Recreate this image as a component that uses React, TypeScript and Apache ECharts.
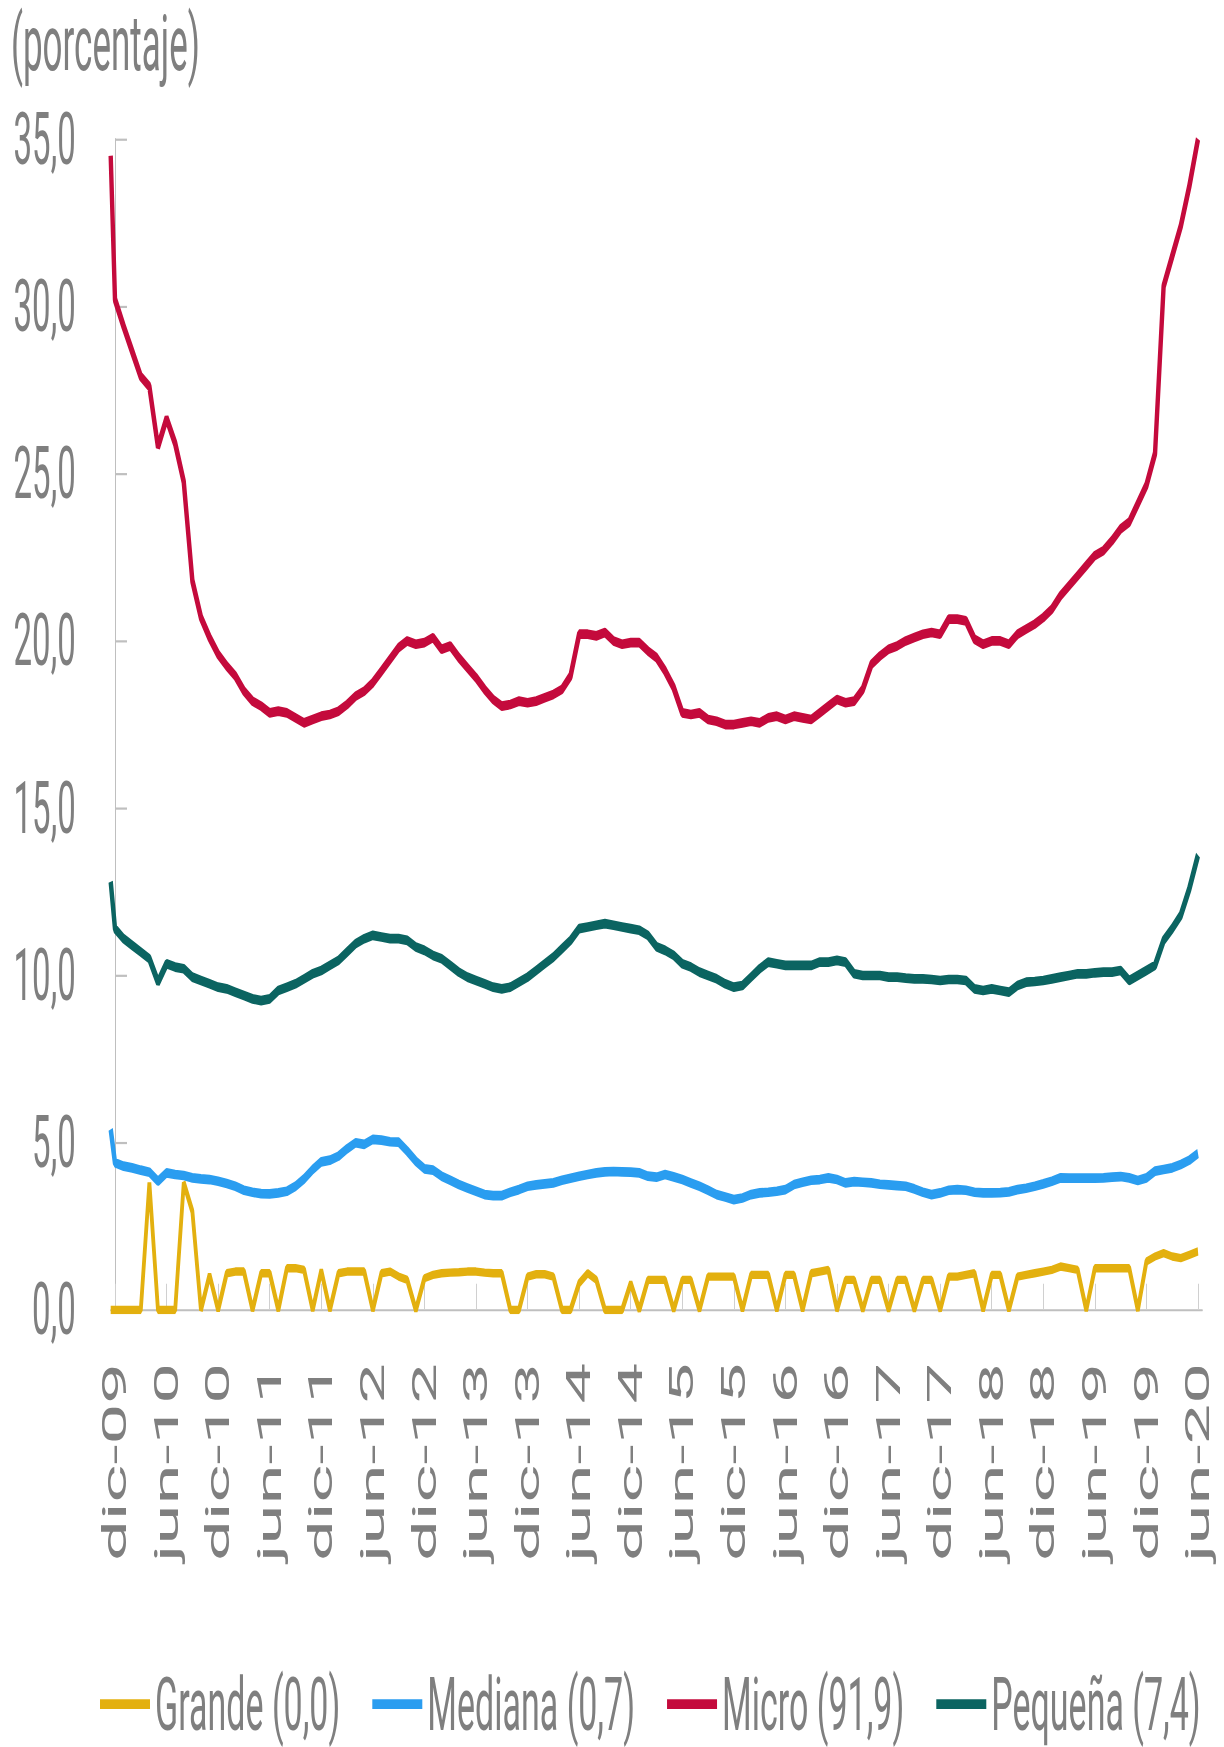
import React, { useEffect, useRef } from "react";
import * as echarts from "echarts";

// Tick labels every 6 months (month index 0 = dic-09)
const tickLabels = [
  "dic-09", "jun-10", "dic-10", "jun-11", "dic-11", "jun-12", "dic-12", "jun-13",
  "dic-13", "jun-14", "dic-14", "jun-15", "dic-15", "jun-16", "dic-16", "jun-17",
  "dic-17", "jun-18", "dic-18", "jun-19", "dic-19", "jun-20",
];
const tickMonths = [0, 6, 12, 18, 24, 30, 36, 42, 48, 54, 60, 66, 72, 78, 84, 90, 96, 102, 108, 114, 120, 126];

// First value sits at the left edge of the axis (month -0.5), then monthly dic-09 .. jun-20
const grande = [
  0, 0, 0, 0, 0, 3.8, 0, 0, 0, 3.8,
  2.95, 0, 1.05, 0, 1.1, 1.15, 1.15, 0, 1.1, 1.1,
  0, 1.25, 1.25, 1.2, 0, 1.18, 0, 1.1, 1.15, 1.15,
  1.15, 0, 1.1, 1.15, 1.0, 0.9, 0, 0.95, 1.05, 1.1,
  1.12, 1.13, 1.15, 1.15, 1.12, 1.1, 1.1, 0, 0, 1.0,
  1.07, 1.07, 1.0, 0, 0, 0.8, 1.1, 0.9, 0, 0,
  0, 0.8, 0, 0.9, 0.9, 0.9, 0, 0.9, 0.9, 0,
  1.0, 1.0, 1.0, 1.0, 0, 1.05, 1.05, 1.05, 0, 1.05,
  1.05, 0, 1.1, 1.15, 1.2, 0, 0.9, 0.9, 0, 0.9,
  0.9, 0, 0.9, 0.9, 0, 0.9, 0.9, 0, 1.0, 1.0,
  1.05, 1.1, 0, 1.05, 1.05, 0, 1.0, 1.05, 1.1, 1.15,
  1.2, 1.3, 1.25, 1.2, 0, 1.25, 1.25, 1.25, 1.25, 1.25,
  0, 1.45, 1.6, 1.7, 1.6, 1.55, 1.65, 1.75,
];
const mediana = [
  5.4, 4.4, 4.3, 4.25, 4.18, 4.12, 3.85, 4.1, 4.05, 4.02,
  3.95, 3.92, 3.9, 3.85, 3.78, 3.7, 3.58, 3.52, 3.48, 3.47,
  3.5, 3.55, 3.7, 3.92, 4.2, 4.43, 4.48, 4.6, 4.82, 5.0,
  4.95, 5.1, 5.08, 5.03, 5.02, 4.75, 4.45, 4.22, 4.18, 4.0,
  3.88, 3.75, 3.65, 3.55, 3.45, 3.42, 3.42, 3.52, 3.6, 3.7,
  3.74, 3.77, 3.8, 3.88, 3.94, 4.0, 4.05, 4.1, 4.13, 4.14,
  4.13, 4.12, 4.1, 4.0, 3.97, 4.05, 3.98, 3.9, 3.8, 3.7,
  3.58, 3.45, 3.38, 3.3, 3.35, 3.45, 3.5, 3.52, 3.55, 3.6,
  3.75, 3.82, 3.88, 3.9, 3.95, 3.9, 3.8, 3.84, 3.82, 3.8,
  3.76, 3.74, 3.72, 3.7, 3.62, 3.52, 3.45, 3.5, 3.58, 3.6,
  3.58, 3.52, 3.5, 3.5, 3.51, 3.53, 3.6, 3.64, 3.7, 3.77,
  3.85, 3.95, 3.94, 3.94, 3.94, 3.94, 3.95, 3.97, 3.99, 3.95,
  3.87, 3.95, 4.15, 4.2, 4.25, 4.35, 4.48, 4.68,
];
const micro = [
  34.5, 30.2, 29.4, 28.65, 27.9, 27.6, 25.8, 26.65, 25.9, 24.75,
  21.8, 20.7, 20.1, 19.6, 19.25, 18.95, 18.5, 18.2, 18.05, 17.85,
  17.9, 17.85, 17.7, 17.55, 17.65, 17.75, 17.8, 17.9, 18.1, 18.35,
  18.5, 18.75, 19.1, 19.45, 19.8, 20.0, 19.9, 19.95, 20.1, 19.75,
  19.85, 19.5, 19.2, 18.9, 18.55, 18.25, 18.05, 18.1, 18.2, 18.15,
  18.2, 18.3, 18.4, 18.55, 18.95, 20.2, 20.2, 20.15, 20.25, 20.0,
  19.9, 19.95, 19.95, 19.7, 19.5, 19.1, 18.6, 17.85, 17.8, 17.85,
  17.65, 17.6, 17.5, 17.5, 17.55, 17.6, 17.55, 17.7, 17.75, 17.65,
  17.75, 17.7, 17.65, 17.85, 18.05, 18.25, 18.15, 18.2, 18.55, 19.3,
  19.55, 19.75, 19.85, 20.0, 20.1, 20.2, 20.25, 20.2, 20.65, 20.65,
  20.6, 20.05, 19.9, 20.0, 20.0, 19.9, 20.2, 20.35, 20.5, 20.7,
  20.95, 21.35, 21.65, 21.95, 22.25, 22.55, 22.7, 23.0, 23.35, 23.55,
  24.1, 24.65, 25.6, 30.6, 31.5, 32.4, 33.6, 35.0,
];
const pequena = [
  12.8, 11.4, 11.1, 10.9, 10.7, 10.5, 9.8, 10.35, 10.25, 10.2,
  9.95, 9.85, 9.75, 9.65, 9.6, 9.5, 9.4, 9.3, 9.25, 9.3,
  9.55, 9.65, 9.75, 9.9, 10.05, 10.15, 10.3, 10.45, 10.7, 10.95,
  11.1, 11.2, 11.15, 11.1, 11.1, 11.05, 10.85, 10.75, 10.6, 10.5,
  10.3, 10.1, 9.95, 9.85, 9.75, 9.65, 9.6, 9.65, 9.8, 9.95,
  10.15, 10.35, 10.55, 10.8, 11.05, 11.4, 11.45, 11.5, 11.55, 11.5,
  11.45, 11.4, 11.35, 11.2, 10.86, 10.75, 10.6, 10.35, 10.25, 10.1,
  10.0, 9.9, 9.75, 9.65, 9.7, 9.95, 10.2, 10.4, 10.35, 10.3,
  10.3, 10.3, 10.3, 10.4, 10.4, 10.45, 10.4, 10.05, 10.0, 10.0,
  10.0, 9.95, 9.95, 9.92, 9.9, 9.9, 9.88, 9.85, 9.88, 9.88,
  9.85, 9.6, 9.55, 9.6, 9.55, 9.5, 9.7, 9.8, 9.82, 9.85,
  9.9, 9.95, 10.0, 10.05, 10.05, 10.08, 10.1, 10.1, 10.15, 9.85,
  10.0, 10.15, 10.3, 11.05, 11.4, 11.8, 12.6, 13.6,
];

const seriesNames = ["Grande (0,0)", "Mediana (0,7)", "Micro (91,9)", "Pequeña (7,4)"];
const seriesColors = ["#E3B00F", "#2A9DF0", "#C40A3C", "#0B6461"];

const PAGE_W = 1224;
const PAGE_H = 1747;
const CHART_H = 794; // drawn height, stretched vertically to the page height
const STRETCH = PAGE_H / CHART_H;

export default function App() {
  const ref = useRef<HTMLDivElement>(null);

  useEffect(() => {
    if (!ref.current) return;
    const chart = echarts.init(ref.current, null, { renderer: "svg" });
    const xPos = [-0.5, ...micro.slice(1).map((_, i) => i)];
    const toData = (vals: number[]) => vals.map((v, i) => [xPos[i], v]);
    const gray = "#7f7f7f";
    const font = "Roboto";
    const allValues = [grande, mediana, micro, pequena];

    chart.setOption({
      animation: false,
      backgroundColor: "#ffffff",
      title: {
        text: "(porcentaje)",
        left: 11,
        top: 0,
        padding: 0,
        textStyle: { fontFamily: font, fontSize: 35, fontWeight: "normal", color: gray, lineHeight: 40 },
      },
      legend: {
        left: 100,
        top: 754.5,
        padding: 0,
        itemWidth: 50,
        itemHeight: 4.5,
        itemGap: 32,
        icon: "rect",
        data: seriesNames,
        textStyle: { fontFamily: font, fontSize: 34, color: gray, lineHeight: 40 },
      },
      grid: { left: 110.7, right: 21.7, top: 63.2, bottom: 198.6, containLabel: false, outerBoundsMode: "none" },
      xAxis: {
        type: "value",
        min: -0.5,
        max: 126.5,
        axisLine: { show: true, lineStyle: { color: "#bfbfbf", width: 1 } },
        axisTick: { show: true, inside: true, length: 12, customValues: tickMonths, lineStyle: { color: "#d0d0d0", width: 1 } },
        axisLabel: {
          customValues: tickMonths,
          rotate: 90,
          margin: 24,
          fontFamily: font,
          fontSize: 33,
          color: gray,
          formatter: (v: number) => {
            const k = tickMonths.indexOf(Math.round(v));
            return k >= 0 ? tickLabels[k] : "";
          },
        },
        splitLine: { show: false },
      },
      yAxis: {
        type: "value",
        min: 0,
        max: 35,
        interval: 5,
        axisLine: { show: true, lineStyle: { color: "#bfbfbf", width: 1 } },
        axisTick: { show: true, inside: true, length: 12, lineStyle: { color: "#bfbfbf", width: 1 } },
        axisLabel: {
          margin: 35,
          fontFamily: font,
          fontSize: 33,
          color: gray,
          formatter: (v: number) => v.toFixed(1).replace(".", ","),
        },
        splitLine: { show: false },
      },
      series: seriesNames.map((name, i) => ({
        name,
        type: "line",
        data: toData(allValues[i]),
        showSymbol: false,
        symbol: "none",
        color: seriesColors[i],
        lineStyle: { color: seriesColors[i], width: i === 0 ? 3.8 : 4.4 },
        emphasis: { disabled: true },
      })),
    });
    return () => chart.dispose();
  }, []);

  return (
    <div
      style={{
        position: "absolute",
        left: 0,
        top: 0,
        width: PAGE_W,
        height: PAGE_H,
        overflow: "hidden",
        background: "#ffffff",
      }}
    >
      <div
        ref={ref}
        style={{
          width: PAGE_W,
          height: CHART_H,
          transform: `scaleY(${STRETCH})`,
          transformOrigin: "0 0",
        }}
      />
    </div>
  );
}
